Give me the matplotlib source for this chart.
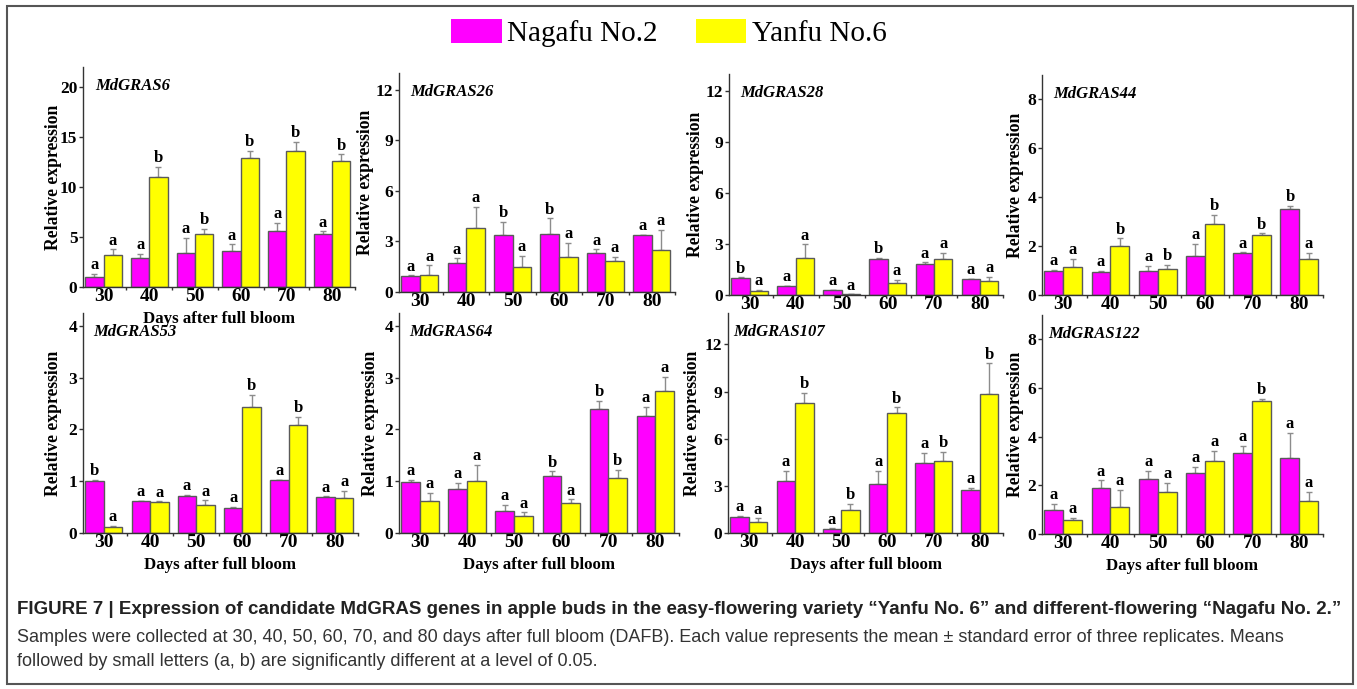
import numpy as np
import matplotlib
matplotlib.use("Agg")
import matplotlib.pyplot as plt
from matplotlib.patches import Patch, Rectangle

plt.rcParams['font.family'] = ['Liberation Serif', 'DejaVu Serif']

days = ['30', '40', '50', '60', '70', '80']
genes = ['MdGRAS6', 'MdGRAS26', 'MdGRAS28', 'MdGRAS44',
         'MdGRAS53', 'MdGRAS64', 'MdGRAS107', 'MdGRAS122']

# Nagafu No.2 means / standard errors
naga_mean = [
    [1.0, 2.9, 3.4, 3.6, 5.6, 5.25],
    [0.95, 1.75, 3.37, 3.43, 2.34, 3.37],
    [0.98, 0.53, 0.29, 2.1, 1.82, 0.92],
    [0.99, 0.95, 0.97, 1.59, 1.7, 3.53],
    [1.0, 0.61, 0.72, 0.49, 1.02, 0.7],
    [0.99, 0.85, 0.42, 1.1, 2.4, 2.26],
    [0.99, 3.3, 0.25, 3.11, 4.47, 2.71],
    [0.98, 1.9, 2.26, 2.49, 3.32, 3.14],
]
naga_se = [
    [0.3, 0.4, 1.5, 0.65, 0.8, 0.3],
    [0.03, 0.25, 0.8, 0.94, 0.2, 0.03],
    [0.06, 0.02, 0.0, 0.1, 0.1, 0.02],
    [0.03, 0.05, 0.22, 0.51, 0.04, 0.11],
    [0.03, 0.01, 0.02, 0.01, 0.01, 0.01],
    [0.04, 0.12, 0.13, 0.09, 0.15, 0.18],
    [0.11, 0.64, 0.05, 0.83, 0.61, 0.15],
    [0.25, 0.3, 0.34, 0.27, 0.3, 1.02],
]
naga_sig = [
    ['a', 'a', 'a', 'a', 'a', 'a'],
    ['a', 'a', 'b', 'b', 'a', 'a'],
    ['b', 'a', 'a', 'b', 'a', 'a'],
    ['a', 'a', 'a', 'a', 'a', 'b'],
    ['b', 'a', 'a', 'a', 'a', 'a'],
    ['a', 'a', 'a', 'b', 'b', 'a'],
    ['a', 'a', 'a', 'a', 'a', 'a'],
    ['a', 'a', 'a', 'a', 'a', 'a'],
]

# Yanfu No.6 means / standard errors
yanfu_mean = [
    [3.2, 10.96, 5.3, 12.86, 13.55, 12.6],
    [1.0, 3.82, 1.48, 2.1, 1.83, 2.52],
    [0.25, 2.2, 0.04, 0.73, 2.1, 0.82],
    [1.13, 2.02, 1.08, 2.89, 2.47, 1.48],
    [0.11, 0.59, 0.55, 2.43, 2.08, 0.67],
    [0.62, 1.0, 0.32, 0.58, 1.06, 2.75],
    [0.7, 8.3, 1.44, 7.66, 4.59, 8.83],
    [0.56, 1.1, 1.74, 2.98, 5.48, 1.35],
]
yanfu_se = [
    [0.55, 1.05, 0.5, 0.75, 0.95, 0.65],
    [0.58, 1.24, 0.65, 0.82, 0.26, 1.16],
    [0.04, 0.78, 0.0, 0.15, 0.4, 0.26],
    [0.35, 0.3, 0.15, 0.38, 0.05, 0.24],
    [0.03, 0.02, 0.08, 0.24, 0.17, 0.14],
    [0.16, 0.31, 0.08, 0.07, 0.16, 0.27],
    [0.23, 0.63, 0.4, 0.34, 0.57, 1.97],
    [0.09, 0.71, 0.36, 0.45, 0.06, 0.39],
]
yanfu_sig = [
    ['a', 'b', 'b', 'b', 'b', 'b'],
    ['a', 'a', 'a', 'a', 'a', 'a'],
    ['a', 'a', 'a', 'a', 'a', 'a'],
    ['a', 'b', 'b', 'b', 'b', 'a'],
    ['a', 'a', 'a', 'b', 'b', 'a'],
    ['a', 'a', 'a', 'a', 'b', 'a'],
    ['a', 'b', 'b', 'b', 'b', 'b'],
    ['a', 'a', 'a', 'a', 'b', 'a'],
]

y_max = [22, 13, 13, 9, 4.25, 4.25, 14, 9]
y_step = [5, 3, 3, 2, 1, 1, 3, 2]

# axes boxes in pixels: left, right, top, bottom
W, H = 1357, 689
boxes = [
    (83, 355, 67, 287), (399, 675, 73, 292), (729, 1003, 74, 295), (1042, 1323, 75, 295),
    (83, 358, 313, 533), (399, 679, 313, 533), (728, 1003, 313, 533), (1042, 1323, 315, 534),
]
name_dx = [12, 11, 11, 11, 10, 10, 5, 6]
ylab_dx = [21, 25, 25, 18, 21, 20, 27, 18]

MAG = '#ff00ff'
YEL = '#ffff00'
EDGE = '#5a5a5a'
ERR = '#8c8c8c'

fig = plt.figure(figsize=(W / 100, H / 100), dpi=100)
x = np.arange(len(days))
bw = 0.4

for i, gene in enumerate(genes):
    l, r, t, b = boxes[i]
    ax = fig.add_axes([l / W, 1 - b / H, (r - l) / W, (b - t) / H])
    for series, means, ses, sigs, col in [
        (-1, naga_mean[i], naga_se[i], naga_sig[i], MAG),
        (1, yanfu_mean[i], yanfu_se[i], yanfu_sig[i], YEL),
    ]:
        xs = x + series * bw / 2
        ax.bar(xs, means, width=bw, color=col, edgecolor=EDGE, linewidth=1.0, zorder=2)
        ax.errorbar(xs, means, yerr=[np.zeros(len(means)), ses], fmt='none',
                    ecolor=ERR, elinewidth=1.0, capsize=2.5, capthick=1.0, zorder=1)
        for xi, m, s, lab in zip(xs, means, ses, sigs):
            ax.annotate(lab, (xi, m + s), xytext=(0, 0.5), textcoords='offset points',
                        ha='center', va='bottom', fontsize=12, fontweight='bold')
    ax.set_xlim(-0.45, 5.5)
    ax.set_ylim(0, y_max[i])
    yt = np.arange(0, y_max[i] + 0.01, y_step[i])
    ax.set_yticks(yt)
    ax.set_yticklabels([f'{v:g}' for v in yt], fontsize=12.5, fontweight='bold')
    ax.set_xticks(x)
    ax.set_xticklabels(days, fontsize=14, fontweight='bold')
    ax.set_xticks(np.arange(0.5, 6, 1), minor=True)
    ax.tick_params(axis='x', which='major', length=0, pad=1)
    ax.tick_params(axis='x', which='minor', length=2.5, width=1, color='#333333')
    ax.tick_params(axis='y', length=3, width=1, pad=1, color='#333333')
    for sp in ['top', 'right']:
        ax.spines[sp].set_visible(False)
    for sp in ['left', 'bottom']:
        ax.spines[sp].set_color('#333333')
        ax.spines[sp].set_linewidth(1.0)
    ax.set_ylabel('Relative expression', fontsize=12.7, fontweight='bold')
    ax.yaxis.set_label_coords(-ylab_dx[i] / (r - l), 0.5)
    if i == 0 or i >= 4:
        ax.set_xlabel('Days after full bloom', fontsize=12.2, fontweight='bold', labelpad=4)
    ax.annotate(gene, (0, 1), xycoords='axes fraction', xytext=(name_dx[i], -19),
                textcoords='offset pixels', ha='left', va='center', fontsize=12,
                fontweight='bold', fontstyle='italic')
    ax.patch.set_alpha(0)

handles = [Patch(facecolor=MAG, edgecolor='none'), Patch(facecolor=YEL, edgecolor='none')]
fig.legend(handles, ['Nagafu No.2', 'Yanfu No.6'], loc='center', bbox_to_anchor=(669 / W, 1 - 33 / H),
           ncol=2, frameon=False, fontsize=21, handlelength=1.72, handleheight=0.92,
           handletextpad=0.2, columnspacing=1.3)

fig.patches.append(Rectangle((7 / W, 1 - 684 / H), (1353 - 7) / W, (684 - 6) / H,
                             transform=fig.transFigure, fill=False, edgecolor='#555555', linewidth=1.5))

cap = ['Liberation Sans', 'DejaVu Sans']
fig.text(17 / W, 1 - 609 / H,
         'FIGURE 7 | Expression of candidate MdGRAS genes in apple buds in the easy-flowering variety '
         '\u201cYanfu No. 6\u201d and different-flowering \u201cNagafu No. 2.\u201d',
         family=cap, fontsize=13.5, fontweight='bold', color='#222222', va='center', ha='left')
fig.text(17 / W, 1 - 637 / H,
         'Samples were collected at 30, 40, 50, 60, 70, and 80 days after full bloom (DAFB). Each value '
         'represents the mean \u00b1 standard error of three replicates. Means',
         family=cap, fontsize=13.0, color='#333333', va='center', ha='left')
fig.text(17 / W, 1 - 662 / H,
         'followed by small letters (a, b) are significantly different at a level of 0.05.',
         family=cap, fontsize=13.0, color='#333333', va='center', ha='left')

fig.savefig('out.png', dpi=100)
